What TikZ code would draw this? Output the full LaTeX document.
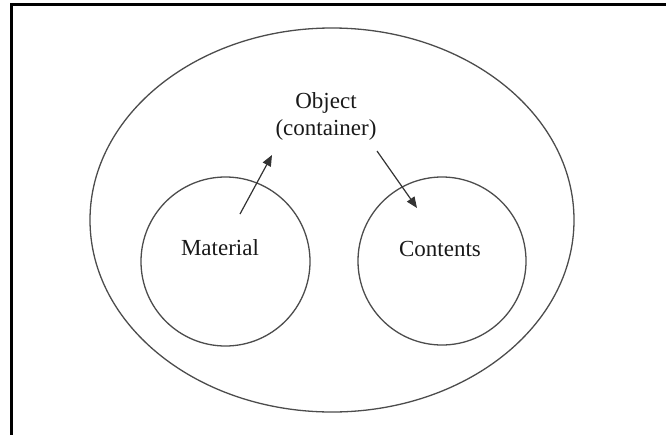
\documentclass[tikz,border=0pt]{standalone}
\usepackage{fontspec}
\setmainfont{Liberation Serif}
\usetikzlibrary{shapes.geometric,arrows.meta}
\begin{document}
\begin{tikzpicture}[x=1pt,y=-1pt,
  ring/.style={draw=black!70, line width=1.3pt, inner sep=0pt},
  lbl/.style={font=\fontsize{23}{27}\selectfont, text=black!90, inner sep=0pt, align=center},
  link/.style={draw=black!80, line width=1.2pt, -{Triangle[length=11pt,width=9pt]}}]
\useasboundingbox (0,0) rectangle (666,434);
\coordinate (fb) at (11.3,440);
\coordinate (fc) at (11.3,4.5);
\coordinate (fr) at (672,4.5);
\draw[line width=2.7pt] (fb) -- (fc) -- (fr);
\node[ring, ellipse, minimum width=484pt, minimum height=384pt] (outer) at (332,220) {};
\node[ring, circle, minimum size=169pt] (mat) at (225.5,261.5) {};
\node[ring, circle, minimum size=168pt] (cont) at (442,261) {};
\node[lbl] (matlbl) at (220,248) {Material};
\node[lbl] (contlbl) at (440,249) {Contents};
\node[lbl] (obj) at (326,116.5) {Object\\(container)};
\coordinate (a1s) at (240,214);
\coordinate (a1e) at (272,155);
\coordinate (a2s) at (377,151);
\coordinate (a2e) at (417,208);
\draw[link] (a1s) -- (a1e);
\draw[link] (a2s) -- (a2e);
\end{tikzpicture}
\end{document}
